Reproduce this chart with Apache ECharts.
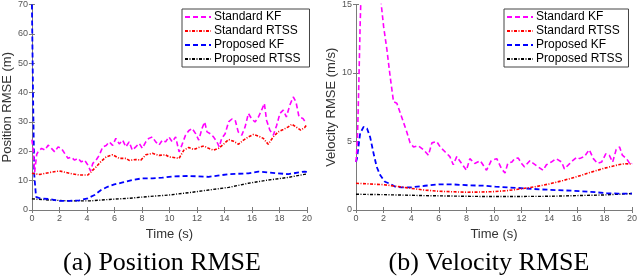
<!DOCTYPE html>
<html><head><meta charset="utf-8">
<script src="https://cdn.jsdelivr.net/npm/echarts@6/dist/echarts.min.js"></script>
<style>html,body{margin:0;padding:0;background:#fff}#c{width:640px;height:277px}</style>
</head><body><div id="c"></div>
<script>
// ---- data ----
const seriesNames = ['Standard KF', 'Standard RTSS', 'Proposed KF', 'Proposed RTSS'];
const xTicks = [0,2,4,6,8,10,12,14,16,18,20];
const posTicks = [0,10,20,30,40,50,60,70];
const velTicks = [0,5,10,15];
const xLabel = 'Time (s)';
const posLabel = 'Position RMSE (m)';
const velLabel = 'Velocity RMSE (m/s)';
const captionA = '(a) Position RMSE';
const captionB = '(b) Velocity RMSE';

const posStdKF = [[0,24],[0.1,20],[0.2,13],[0.35,19],[0.45,19.8],[0.7,21],[0.95,20.4],[1.18,22.1],[1.42,21],[1.66,19.8],[1.9,21.5],[2.14,21],[2.38,19.3],[2.62,17.6],[2.86,18],[3.1,17],[3.35,17.6],[3.59,16.4],[3.83,17],[4.07,15.3],[4.26,13.3],[4.43,15.9],[4.67,17],[4.9,18.7],[5.15,21.5],[5.4,22],[5.63,23.2],[5.87,22],[6.1,24.4],[6.35,22.5],[6.6,23.8],[6.83,21.5],[7.07,23.2],[7.3,20.4],[7.55,21.5],[7.8,22.7],[8.03,21],[8.28,23.2],[8.5,24.4],[8.76,24.9],[9.0,23.2],[9.24,22.1],[9.48,23.8],[9.72,23.2],[9.96,24.9],[10.2,23.2],[10.45,24.9],[10.7,19.8],[10.9,22.1],[11.17,25.5],[11.4,27],[11.65,27.8],[11.9,26],[12.13,23.8],[12.37,27.8],[12.56,30],[12.73,26.6],[12.97,26],[13.2,24.9],[13.45,23.2],[13.62,21.5],[13.8,24.4],[14.05,26],[14.3,30],[14.54,31],[14.78,30.6],[15.0,26.6],[15.26,25.5],[15.5,28.3],[15.74,32.9],[15.98,31],[16.22,30],[16.46,31.6],[16.7,34],[16.9,36.3],[17.06,30.6],[17.3,27.2],[17.55,25.5],[17.8,28.9],[18.03,32.9],[18.27,34],[18.5,31.7],[18.75,35.7],[19.0,38.5],[19.2,36.8],[19.42,31.7],[19.7,31.2],[19.95,29.5]];
const posStdRTSS = [[0,12.5],[0.58,12.1],[1.3,12.8],[2.0,13.3],[2.74,12.5],[3.47,11.9],[4.07,11.9],[4.3,13],[4.67,14.7],[5.0,16.4],[5.4,18.1],[5.87,18.8],[6.35,17.6],[6.83,17.6],[7.07,16.9],[7.55,17.2],[7.92,17],[8.28,18.8],[8.76,19.3],[9.24,18.6],[9.72,18.8],[9.96,18.1],[10.3,17.9],[10.7,17.6],[11.05,20.4],[11.4,21.3],[11.77,20.6],[12.13,21.3],[12.5,21.8],[12.85,21],[13.2,20.4],[13.57,21],[13.93,22.4],[14.3,24],[14.66,23.4],[15.02,22.4],[15.38,23.8],[15.74,24.9],[16.1,25.7],[16.46,25.2],[16.82,24.4],[17.18,22.4],[17.55,24.9],[17.9,26.6],[18.27,27.4],[18.63,28.3],[18.9,29.2],[19.2,28.3],[19.54,27.2],[19.83,28.1],[20,29.2]];
const posPropKF = [[0,70],[0.08,40],[0.17,12],[0.3,4.5],[0.58,4.0],[1.3,3.7],[2.0,3.1],[2.74,3.1],[3.47,3.3],[4.07,4.0],[4.55,5.1],[5.03,6.8],[5.5,7.9],[5.99,8.7],[6.6,9.4],[7.3,10.2],[8.03,10.8],[8.76,10.8],[9.48,11],[10.2,11.4],[11.4,11.6],[12.85,11.3],[14.3,12.2],[15.74,12.5],[16.46,13.1],[17.18,12.8],[18.63,12.2],[19.83,13.1],[20,13]];
const posPropRTSS = [[0,3.8],[1.3,3.4],[2.74,3.1],[4.2,3.1],[5.63,3.6],[7.07,4.0],[8.5,4.6],[9.96,5.1],[11.4,5.9],[12.85,6.8],[14.3,7.7],[15.74,9.1],[17.18,10.2],[18.63,11.1],[20,12.3]];

const velStdKF = [[0,3.5],[0.1,5],[0.2,9],[0.3,13.5],[0.4,17],[0.7,22],[1.0,24],[1.3,21],[1.6,17.5],[1.83,15],[2.0,13.4],[2.24,11.7],[2.48,9.7],[2.72,7.9],[2.96,7.8],[3.2,7.1],[3.44,6.4],[3.68,5.7],[3.92,4.9],[4.17,4.6],[4.5,4.7],[4.9,4.4],[5.25,4.0],[5.5,4.9],[5.85,5.0],[6.1,4.6],[6.45,4.25],[6.8,3.9],[7.05,3.3],[7.3,3.9],[7.65,3.4],[8.0,2.9],[8.25,3.75],[8.6,3.4],[9.0,3.6],[9.2,3.3],[9.46,2.9],[9.8,3.6],[10.2,3.75],[10.55,3.0],[10.8,2.7],[11.0,3.4],[11.3,3.5],[11.5,3.75],[11.75,3.8],[12.0,3.4],[12.2,3.15],[12.6,3.6],[12.85,3.4],[13.2,3.15],[13.55,2.9],[13.8,3.3],[14.15,3.5],[14.5,3.75],[14.9,3.5],[15.1,3.0],[15.5,3.4],[15.7,3.6],[16.0,3.85],[16.2,3.75],[16.55,3.9],[16.9,4.4],[17.2,3.75],[17.5,3.4],[17.8,3.5],[18.1,4.1],[18.35,4.0],[18.6,3.5],[18.85,4.4],[19.1,4.6],[19.3,4.0],[19.6,3.75],[19.9,3.3],[20,3.4]];
const velStdRTSS = [[0,1.95],[1,1.9],[2,1.85],[3,1.72],[4,1.58],[5,1.45],[6,1.37],[7,1.33],[8,1.3],[9,1.31],[10,1.34],[11,1.42],[12,1.55],[13,1.7],[14,1.9],[15,2.15],[16,2.43],[17,2.75],[18,3.05],[19,3.3],[19.5,3.38],[20,3.35]];
const velPropKF = [[0,3.5],[0.07,3.75],[0.3,5.6],[0.55,6.07],[0.8,5.95],[1.03,5.3],[1.28,4.1],[1.5,3.15],[1.75,2.55],[2.1,2.06],[2.5,1.9],[2.85,1.7],[3.3,1.65],[4.0,1.65],[5.0,1.77],[6.0,1.87],[7.0,1.87],[8.2,1.8],[9.4,1.77],[10.1,1.7],[11,1.65],[12.2,1.58],[13.4,1.5],[14.6,1.45],[15.8,1.4],[17,1.33],[18.2,1.22],[19,1.2],[20,1.2]];
const velPropRTSS = [[0,1.15],[2,1.12],[5,1.05],[8,1.0],[10,0.98],[12,0.99],[14,1.0],[16,1.05],[18,1.1],[19,1.15],[20,1.2]];

// ---- styling ----
const colors = ['#ff00ff', '#ff0000', '#0000ff', '#000000'];
const dashes = [[5,3], [3,1.5,1,1.5], [5,3], [3,1.5,1,1.5]];
const widths = [1.6, 1.6, 1.8, 1.4];
const axisColor = '#7a7a7a';
const sans = 'Liberation Sans, Arial, sans-serif';

function xAx(grid, pos, showLabel) {
  return {
    type: 'value', gridIndex: grid, position: pos, min: 0, max: 20, interval: 2,
    axisLine: {show: true, lineStyle: {color: axisColor, width: 1}},
    axisTick: {show: true, inside: true, length: 3, lineStyle: {color: axisColor}},
    axisLabel: {show: showLabel, fontSize: 9, color: '#555', margin: 4, fontFamily: sans},
    splitLine: {show: false},
    name: showLabel ? xLabel : '', nameLocation: 'middle', nameGap: 16,
    nameTextStyle: {fontSize: 13, color: '#333', fontFamily: sans}
  };
}
function yAx(grid, pos, showLabel, max, interval, name, gap) {
  return {
    type: 'value', gridIndex: grid, position: pos, min: 0, max: max, interval: interval,
    axisLine: {show: true, lineStyle: {color: axisColor, width: 1}},
    axisTick: {show: true, inside: true, length: 3, lineStyle: {color: axisColor}},
    axisLabel: {show: showLabel, fontSize: 9, color: '#555', margin: 4, fontFamily: sans},
    splitLine: {show: false},
    name: showLabel ? name : '', nameLocation: 'middle', nameGap: gap,
    nameTextStyle: {fontSize: 13, color: '#333', fontFamily: sans}
  };
}
function ser(name, i, data, xi, yi) {
  return {
    name: name, type: 'line', xAxisIndex: xi, yAxisIndex: yi, data: data,
    symbol: 'none', clip: true, animation: false,
    lineStyle: {color: colors[i], type: dashes[i], width: widths[i]},
    itemStyle: {color: colors[i]}, z: 2 + (3 - i)
  };
}
function leg(left, padRight) {
  return {
    data: seriesNames, orient: 'vertical', left: left, top: 9,
    itemWidth: 26, itemHeight: 13, itemGap: 2,
    padding: [2, padRight, 2, 2], backgroundColor: '#fff',
    borderColor: '#444', borderWidth: 1, borderRadius: 0,
    selectedMode: false,
    itemStyle: {opacity: 0},
    textStyle: {fontSize: 12, color: '#000', fontFamily: sans, padding: [0,0,0,-2]}
  };
}

const chart = echarts.init(document.getElementById('c'), null, {renderer: 'canvas'});
chart.setOption({
  animation: false,
  grid: [
    {left: 30, top: 4, width: 277, height: 206, show: false},
    {left: 356, top: 4, width: 277, height: 206, show: false}
  ],
  xAxis: [xAx(0, 'bottom', true), xAx(0, 'top', false), xAx(1, 'bottom', true), xAx(1, 'top', false)],
  yAxis: [
    yAx(0, 'left', true, 70, 10, posLabel, 15),
    yAx(0, 'right', false, 70, 10, '', 0),
    yAx(1, 'left', true, 15, 5, velLabel, 18),
    yAx(1, 'right', false, 15, 5, '', 0)
  ],
  legend: [leg(182, 9), leg(504, 6)],
  series: [
    ser(seriesNames[0], 0, posStdKF, 0, 0),
    ser(seriesNames[1], 1, posStdRTSS, 0, 0),
    ser(seriesNames[2], 2, posPropKF, 0, 0),
    ser(seriesNames[3], 3, posPropRTSS, 0, 0),
    ser(seriesNames[0], 0, velStdKF, 2, 2),
    ser(seriesNames[1], 1, velStdRTSS, 2, 2),
    ser(seriesNames[2], 2, velPropKF, 2, 2),
    ser(seriesNames[3], 3, velPropRTSS, 2, 2)
  ],
  graphic: [
    {type: 'text', style: {text: captionA, x: 162, y: 263, textAlign: 'center', textVerticalAlign: 'middle', font: '26px "Liberation Serif", "Times New Roman", serif', fill: '#000'}},
    {type: 'text', style: {text: captionB, x: 489, y: 263, textAlign: 'center', textVerticalAlign: 'middle', font: '26px "Liberation Serif", "Times New Roman", serif', fill: '#000'}}
  ]
});
</script>
</body></html>
